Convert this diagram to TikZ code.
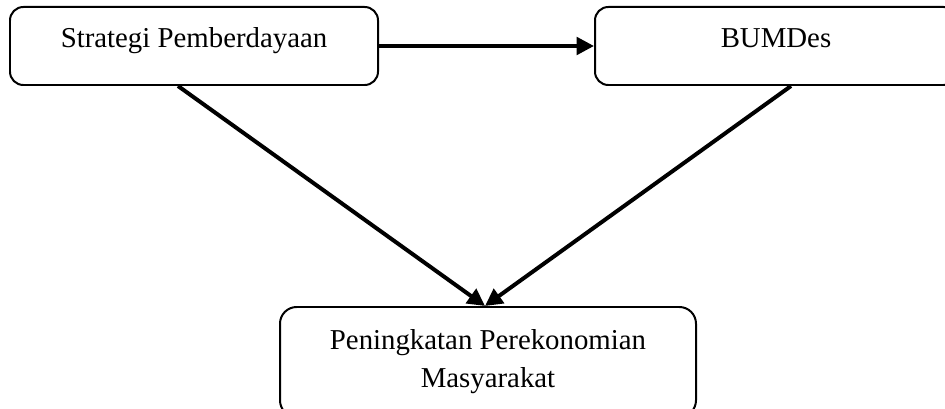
\documentclass[tikz,border=0pt]{standalone}
\usepackage{fontspec}
\setmainfont{Liberation Serif}
\usepackage{tikz}
\usetikzlibrary{arrows.meta}

\begin{document}
\begin{tikzpicture}[
  box/.style={draw,line width=0.85pt,rounded corners=0.2cm,inner sep=0pt,
    font=\fontsize{12.3}{16.2}\selectfont},
  onebox/.style={box,minimum width=5.52cm,minimum height=1.17cm,
    text height=9pt,text depth=7.4pt},
  arr/.style={line width=1.7pt,-{Triangle[length=7.4pt,width=7.4pt]}}]

\useasboundingbox (0,0) rectangle (14.175,6.12);

% top row
\node[onebox] (strat) at (2.91,5.43) {Strategi Pemberdayaan};
\node[onebox,minimum width=5.43cm] (bumdes) at (11.64,5.43) {BUMDes};

% bottom box (runs past the lower edge)
\node[box,rounded corners=0.25cm,align=center,minimum width=6.24cm,
  minimum height=1.65cm] (pen) at (7.32,0.69)
  {Peningkatan Perekonomian\\Masyarakat};

% connectors
\draw[arr] (strat.east) -- (bumdes.west);
\draw[arr] ([xshift=-0.24cm]strat.south) -- ([xshift=-0.045cm]pen.north);
\draw[arr] ([xshift=0.225cm]bumdes.south) -- ([xshift=-0.045cm]pen.north);

\end{tikzpicture}
\end{document}
